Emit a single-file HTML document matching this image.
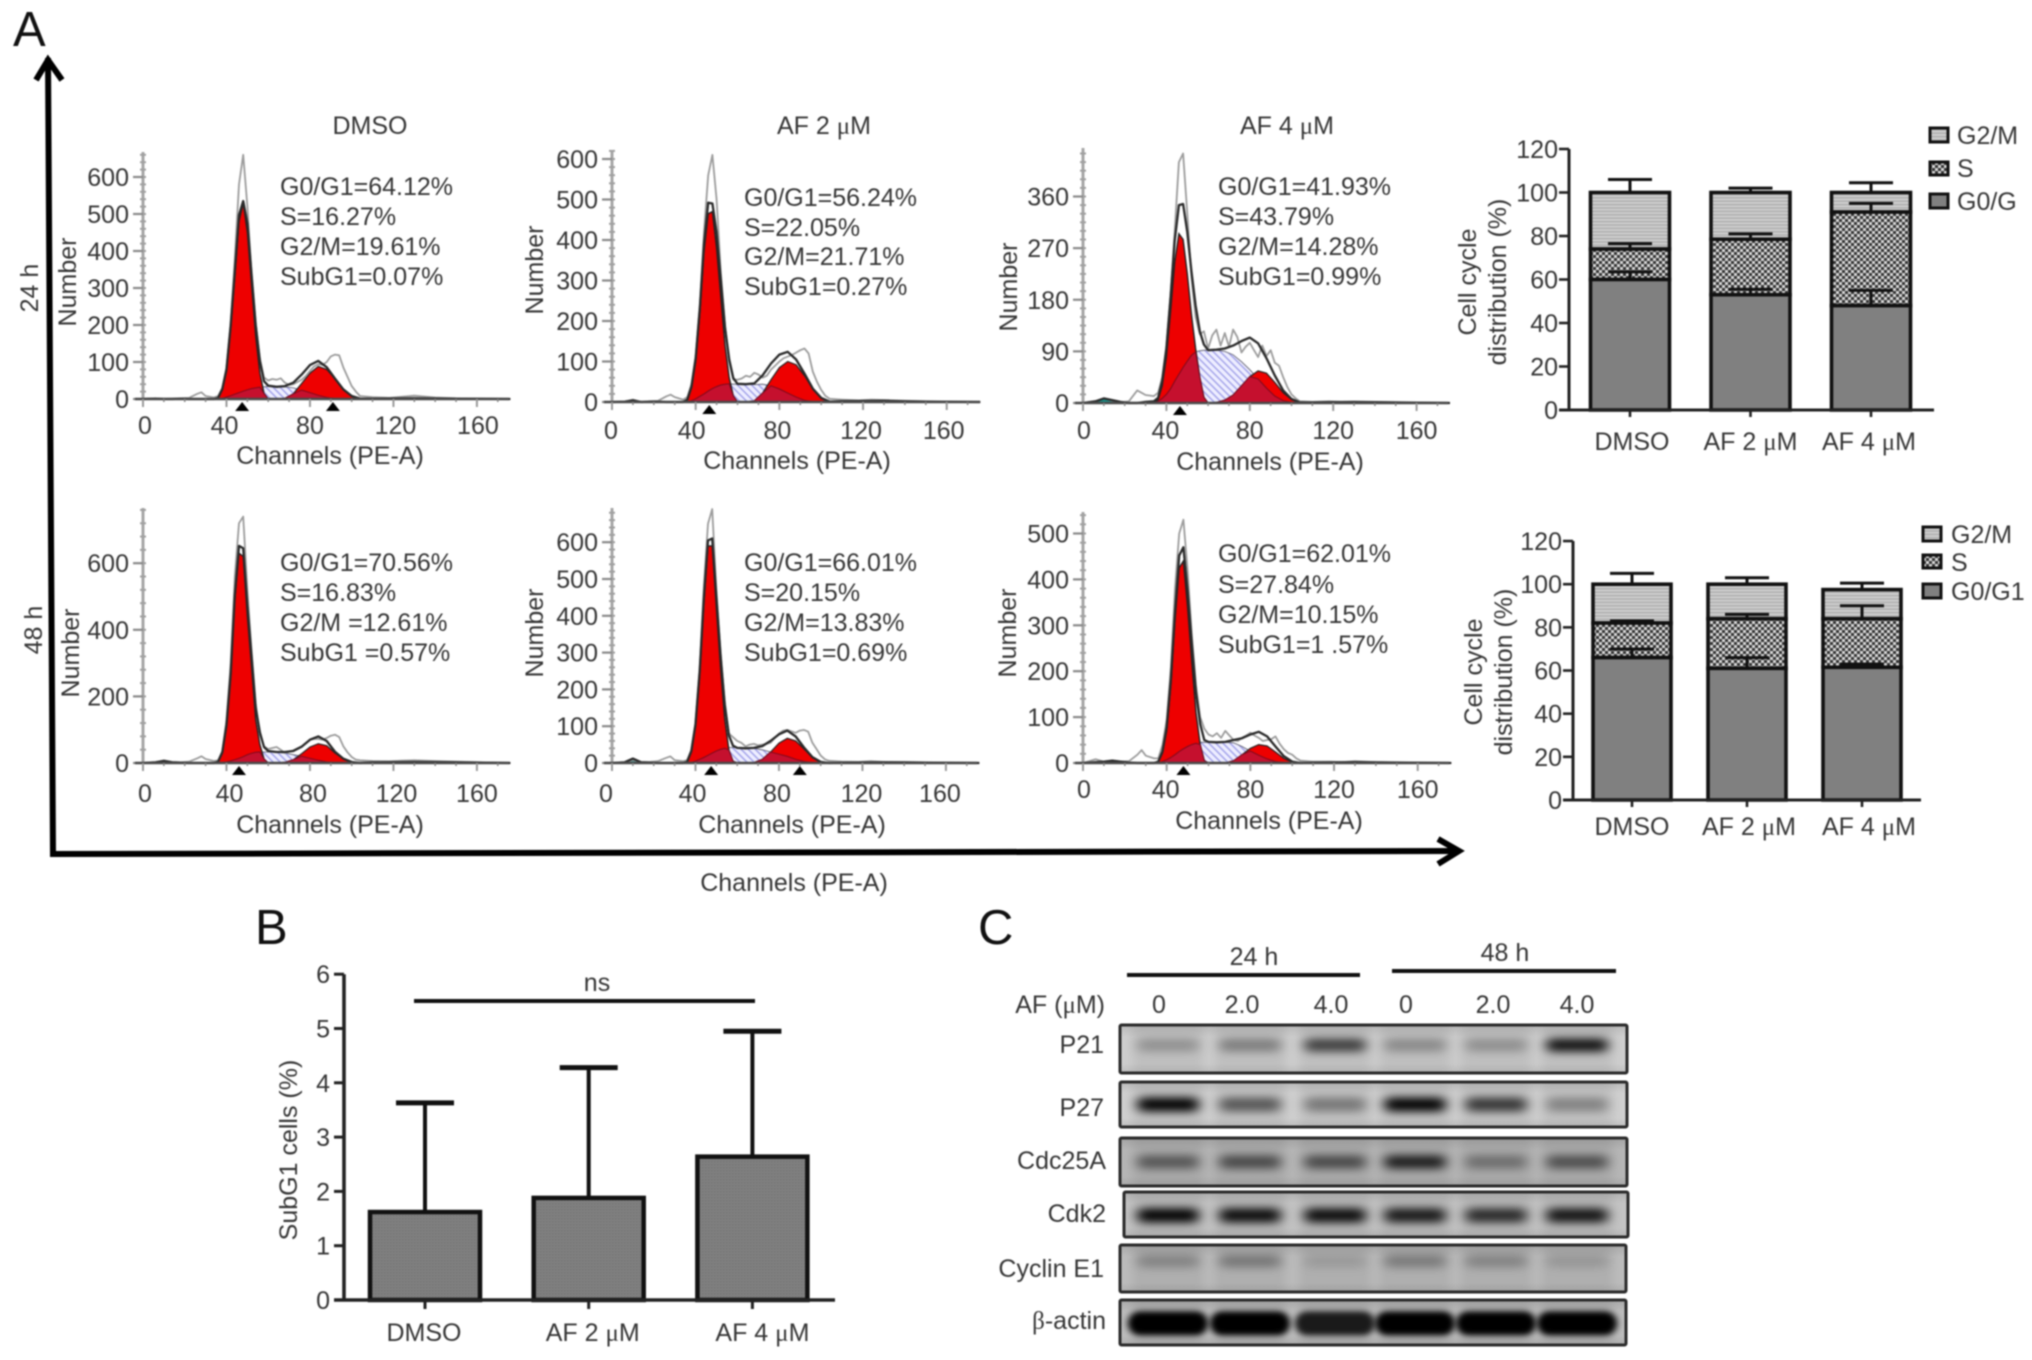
<!DOCTYPE html>
<html lang="en">
<head>
<meta charset="utf-8">
<title>Cell cycle analysis figure</title>
<style>
html,body{margin:0;padding:0;background:#fff;}
#figure{display:block;width:2032px;height:1360px;filter:blur(0.7px);}
text{font-family:"Liberation Sans",sans-serif;font-size:25px;fill:#363636;}
.mu{font-family:"Liberation Serif",serif;}
.letter{font-size:49px;fill:#111;}
.m{text-anchor:middle;}
.e{text-anchor:end;}
</style>
</head>
<body>
<svg id="figure" xmlns="http://www.w3.org/2000/svg" width="2032" height="1360" viewBox="0 0 2032 1360">
<defs>
  <pattern id="hatch-s-phase" patternUnits="userSpaceOnUse" width="5" height="5" patternTransform="rotate(45)">
    <rect width="5" height="5" fill="#eeeeff"/><rect width="5" height="1.5" fill="#a4a4ea"/>
  </pattern>
  <pattern id="stack-g2" patternUnits="userSpaceOnUse" width="4" height="3.4">
    <rect width="4" height="3.4" fill="#cdcdcd"/><rect width="4" height="1.2" fill="#a8a8a8"/>
  </pattern>
  <pattern id="stack-s" patternUnits="userSpaceOnUse" width="6" height="6">
    <rect width="6" height="6" fill="#d8d8d8"/><rect width="3" height="3" fill="#333"/><rect x="3" y="3" width="3" height="3" fill="#333"/>
  </pattern>
  <pattern id="bar-dots" patternUnits="userSpaceOnUse" width="3" height="3">
    <rect width="3" height="3" fill="#808080"/><rect width="1.5" height="1.5" fill="#747474"/>
  </pattern>
  <filter id="band-blur" x="-40%" y="-150%" width="180%" height="400%"><feGaussianBlur stdDeviation="6 4.5"/></filter>
  <filter id="band-blur-tight" x="-30%" y="-100%" width="160%" height="300%"><feGaussianBlur stdDeviation="3.5 3"/></filter>
  <filter id="lane-blur" x="-30%" y="-10%" width="160%" height="120%"><feGaussianBlur stdDeviation="5"/></filter>
  <linearGradient id="blot-edge" x1="0" y1="0" x2="0" y2="1">
    <stop offset="0" stop-color="#000" stop-opacity=".10"/>
    <stop offset=".25" stop-color="#000" stop-opacity="0"/>
    <stop offset=".8" stop-color="#000" stop-opacity="0"/>
    <stop offset="1" stop-color="#000" stop-opacity=".08"/>
  </linearGradient>
</defs>

<!-- Panel letters -->
<text class="letter" x="13" y="46">A</text>
<text class="letter" x="255" y="944">B</text>
<text class="letter" x="978" y="944">C</text>

<!-- Large axes arrows -->
<g fill="none" stroke="#000" stroke-width="6">
  <path d="M48 58 L53 854 L1456 851"/>
  <path d="M36 80 L48 60 L62 80"/>
  <path d="M1438 839 L1459 851 L1438 864"/>
</g>
<text class="m" x="794" y="891">Channels (PE-A)</text>
<text class="m" transform="rotate(-90 29 288)" x="29" y="297">24 h</text>
<text class="m" transform="rotate(-90 33 630)" x="33" y="639">48 h</text>

<!-- Column titles -->
<text class="m" x="370" y="134">DMSO</text>
<text class="m" x="824" y="134">AF 2 <tspan class="mu">μ</tspan>M</text>
<text class="m" x="1287" y="134">AF 4 <tspan class="mu">μ</tspan>M</text>

<!-- Histogram groups; marks are added by script -->
<g id="hist-dmso-24"></g>
<g id="hist-af2-24"></g>
<g id="hist-af4-24"></g>
<g id="hist-dmso-48"></g>
<g id="hist-af2-48"></g>
<g id="hist-af4-48"></g>

<!-- Histogram axis titles -->
<g>
  <text class="m" transform="rotate(-90 67 282)" x="67" y="291">Number</text>
  <text class="m" transform="rotate(-90 534 270)" x="534" y="279">Number</text>
  <text class="m" transform="rotate(-90 1008 287)" x="1008" y="296">Number</text>
  <text class="m" transform="rotate(-90 70 653)" x="70" y="662">Number</text>
  <text class="m" transform="rotate(-90 534 633)" x="534" y="642">Number</text>
  <text class="m" transform="rotate(-90 1007 633)" x="1007" y="642">Number</text>
  <text class="m" x="330" y="464">Channels (PE-A)</text>
  <text class="m" x="797" y="469">Channels (PE-A)</text>
  <text class="m" x="1270" y="470">Channels (PE-A)</text>
  <text class="m" x="330" y="833">Channels (PE-A)</text>
  <text class="m" x="792" y="833">Channels (PE-A)</text>
  <text class="m" x="1269" y="829">Channels (PE-A)</text>
</g>

<!-- Phase percentages -->
<g>
  <text x="280" y="195">G0/G1=64.12%</text>
  <text x="280" y="225">S=16.27%</text>
  <text x="280" y="255">G2/M=19.61%</text>
  <text x="280" y="285">SubG1=0.07%</text>
</g>
<g>
  <text x="744" y="206">G0/G1=56.24%</text>
  <text x="744" y="236">S=22.05%</text>
  <text x="744" y="265">G2/M=21.71%</text>
  <text x="744" y="295">SubG1=0.27%</text>
</g>
<g>
  <text x="1218" y="195">G0/G1=41.93%</text>
  <text x="1218" y="225">S=43.79%</text>
  <text x="1218" y="255">G2/M=14.28%</text>
  <text x="1218" y="285">SubG1=0.99%</text>
</g>
<g>
  <text x="280" y="571">G0/G1=70.56%</text>
  <text x="280" y="601">S=16.83%</text>
  <text x="280" y="631">G2/M =12.61%</text>
  <text x="280" y="661">SubG1 =0.57%</text>
</g>
<g>
  <text x="744" y="571">G0/G1=66.01%</text>
  <text x="744" y="601">S=20.15%</text>
  <text x="744" y="631">G2/M=13.83%</text>
  <text x="744" y="661">SubG1=0.69%</text>
</g>
<g>
  <text x="1218" y="562">G0/G1=62.01%</text>
  <text x="1218" y="593">S=27.84%</text>
  <text x="1218" y="623">G2/M=10.15%</text>
  <text x="1218" y="653">SubG1=1 .57%</text>
</g>

<!-- Stacked bar charts -->
<g id="stack-24"></g>
<g id="stack-48"></g>
<g>
  <text class="m" transform="rotate(-90 1467 282)" x="1467" y="291">Cell cycle</text>
  <text class="m" transform="rotate(-90 1497 282)" x="1497" y="291">distribution (%)</text>
</g>
<g>
  <text class="m" transform="rotate(-90 1473 672)" x="1473" y="681">Cell cycle</text>
  <text class="m" transform="rotate(-90 1503 672)" x="1503" y="681">distribution (%)</text>
</g>
<g stroke="#111" stroke-width="3">
  <rect x="1930" y="128" width="18" height="14" fill="url(#stack-g2)"/>
  <rect x="1930" y="162" width="18" height="13" fill="url(#stack-s)"/>
  <rect x="1930" y="194" width="18" height="14" fill="#808080"/>
  <text x="1957" y="144" stroke="none">G2/M</text>
  <text x="1957" y="177" stroke="none">S</text>
  <text x="1957" y="210" stroke="none">G0/G</text>
</g>
<g stroke="#111" stroke-width="3">
  <rect x="1923" y="527" width="18" height="14" fill="url(#stack-g2)"/>
  <rect x="1923" y="555" width="18" height="13" fill="url(#stack-s)"/>
  <rect x="1923" y="584" width="18" height="14" fill="#808080"/>
  <text x="1951" y="543" stroke="none">G2/M</text>
  <text x="1951" y="571" stroke="none">S</text>
  <text x="1951" y="600" stroke="none">G0/G1</text>
</g>

<!-- Panel B -->
<g id="subg1-chart"></g>
<text class="m" transform="rotate(-90 288 1150)" x="288" y="1159">SubG1 cells (%)</text>
<line x1="414" y1="1001" x2="755" y2="1001" stroke="#111" stroke-width="4"/>
<text class="m" x="597" y="991">ns</text>

<!-- Panel C -->
<g>
  <text class="m" x="1254" y="965">24 h</text>
  <text class="m" x="1505" y="961">48 h</text>
  <line x1="1127" y1="975" x2="1360" y2="975" stroke="#111" stroke-width="4"/>
  <line x1="1392" y1="971" x2="1616" y2="971" stroke="#111" stroke-width="4"/>
  <text class="e" x="1105" y="1013">AF (<tspan class="mu">μ</tspan>M)</text>
  <text class="m" x="1159" y="1013">0</text>
  <text class="m" x="1242" y="1013">2.0</text>
  <text class="m" x="1331" y="1013">4.0</text>
  <text class="m" x="1406" y="1013">0</text>
  <text class="m" x="1493" y="1013">2.0</text>
  <text class="m" x="1577" y="1013">4.0</text>
</g>
<g>
  <text class="e" x="1104" y="1053">P21</text>
  <text class="e" x="1104" y="1116">P27</text>
  <text class="e" x="1106" y="1169">Cdc25A</text>
  <text class="e" x="1106" y="1222">Cdk2</text>
  <text class="e" x="1104" y="1277">Cyclin E1</text>
  <text class="e" x="1106" y="1329"><tspan class="mu">β</tspan>-actin</text>
</g>
<g id="blots"></g>
</svg>

<script>
/* ---------- Flow cytometry histograms ---------- */
const channels=[0,6,10,14,18,22,26,30, 34,36,38,40,42,44,46,48,50,52,54,56,58,60, 64,68,72,76,80,84,88,92,96,100,104, 110,130,150,176];
const rawChannels=[0,6,10,14,18,22,26,28,30, 34,36,38,40,42,44,46,48,50,52,54,56,58,60, 62,64,66,68,70,72,74,76,78,80,82,84,86,88,90,92,94,96,98,100,102,104, 110,118,124,130,140,150,176];

const dmso24G1=[0,0,0,0,0,0,0,0, 0,3,25,75,190,330,480,530,450,310,170,70,15,0, 0,0,0,0,0,0,0,0,0,0,0, 0,0,0,0];
const dmso24S=[0,0,0,0,0,0,0,0, 0,0,2,5,9,13,17,21,25,28,30,32,33,34, 33,33,30,24,17,10,4,1,0,0,0, 0,0,0,0];
const dmso24G2=[0,0,0,0,0,0,0,0, 0,0,0,0,0,0,0,0,0,0,0,0,0,0, 0,2,14,42,70,88,80,54,26,8,1, 0,0,0,0];
const dmso24Sub=[0,0,0,0,0,0,0,0, 0,0,0,0,0,0,0,0,0,0,0,0,0,0, 0,0,0,0,0,0,0,0,0,0,0, 0,0,0,0];
const dmso24Fit=[0,1,0,0,1,0,0,0, 0,3,27,80,199,343,497,535,475,338,200,102,48,36, 33,35,44,66,92,103,86,55,26,8,1, 1,2,1,0];
const dmso24Raw=[0,2,0,1,2,3,14,18,8, 4,8,30,85,205,380,580,660,520,340,205,110,58,50, 54,52,56,44,38,40,46,52,62,76,88,94,92,100,115,120,118,85,60,35,20,8, 5,3,6,9,4,2,0];

const af224G1=[0,0,0,0,0,0,0,0, 0,5,35,100,220,370,465,470,380,260,140,60,15,0, 0,0,0,0,0,0,0,0,0,0,0, 0,0,0,0];
const af224S=[0,0,0,0,0,0,0,0, 0,1,3,8,14,20,27,33,38,42,44,45,44,44, 43,43,44,40,32,22,12,4,1,0,0, 0,0,0,0];
const af224G2=[0,0,0,0,0,0,0,0, 0,0,0,0,0,0,0,0,0,0,0,0,0,0, 0,3,22,55,85,100,92,65,32,10,1, 0,0,0,0];
const af224Sub=[0,0,0,0,0,0,0,0, 0,0,0,0,0,0,0,0,0,0,0,0,0,0, 0,0,0,0,0,0,0,0,0,0,0, 0,0,0,0];
const af224Fit=[0,1,4,0,1,1,0,0, 0,6,38,108,234,390,492,490,418,302,184,105,59,45, 44,46,66,95,117,124,105,70,33,10,1, 2,3,1,0];
const af224Raw=[0,1,6,0,2,3,14,18,12, 6,12,45,115,240,420,560,610,500,320,190,100,55,55, 58,65,62,72,68,60,65,80,90,100,108,112,116,122,128,132,120,75,50,30,15,8, 6,4,6,5,3,2,0];

const af424G1=[0,0,0,0,0,0,0,0, 0,6,30,80,160,245,295,285,225,155,95,45,10,0, 0,0,0,0,0,0,0,0,0,0,0, 0,0,0,0];
const af424S=[0,0,0,0,0,0,0,0, 0,3,8,15,25,38,50,62,73,83,89,91,92,92, 92,90,84,72,58,42,26,12,4,1,0, 0,0,0,0];
const af424G2=[0,0,0,0,0,0,0,0, 0,0,0,0,0,0,0,0,0,0,0,0,0,0, 1,5,14,30,46,56,52,36,18,6,1, 0,0,0,0];
const af424Sub=[0,3,8,5,1,0,0,0, 0,0,0,0,0,0,0,0,0,0,0,0,0,0, 0,0,0,0,0,0,0,0,0,0,0, 0,0,0,0];
const af424Fit=[0,3,8,5,2,0,0,2, 3,9,38,95,185,283,345,347,298,230,170,125,102,92, 93,95,100,108,114,104,78,48,22,7,1, 1,2,1,0];
const af424Raw=[0,3,8,4,1,3,22,18,14, 12,18,45,100,190,300,420,435,330,220,150,120,125,95, 118,128,100,122,98,128,115,88,98,105,92,80,100,82,92,70,65,45,28,15,8,3, 2,3,2,2,2,1,0];

const dmso48G1=[0,0,0,0,0,0,0,0, 0,3,30,110,260,490,630,620,440,290,130,55,12,0, 0,0,0,0,0,0,0,0,0,0,0, 0,0,0,0];
const dmso48S=[0,0,0,0,0,0,0,0, 0,0,1,3,6,10,14,19,25,29,32,33,33,33, 32,30,25,20,14,8,3,1,0,0,0, 0,0,0,0];
const dmso48G2=[0,0,0,0,0,0,0,0, 0,0,0,0,0,0,0,0,0,0,0,0,0,0, 0,2,10,28,48,58,52,30,12,3,0, 0,0,0,0];
const dmso48Sub=[0,0,0,0,0,0,0,0, 0,0,0,0,0,0,0,0,0,0,0,0,0,0, 0,0,0,0,0,0,0,0,0,0,0, 0,0,0,0];
const dmso48Fit=[0,2,6,2,1,0,0,0, 0,4,32,114,268,502,652,645,470,322,165,92,48,36, 33,33,36,49,70,80,66,34,13,3,0, 2,3,2,0];
const dmso48Raw=[0,2,8,3,2,4,14,20,12, 6,8,36,130,300,560,720,740,520,340,180,85,50,42, 45,48,40,30,34,38,44,50,60,70,72,72,70,75,82,85,78,50,32,18,10,8, 6,5,7,8,6,4,0];

const af248G1=[0,0,0,0,0,0,0,0, 0,2,30,100,240,430,590,590,420,260,120,35,5,0, 0,0,0,0,0,0,0,0,0,0,0, 0,0,0,0];
const af248S=[0,0,0,0,0,0,0,0, 0,0,2,5,10,15,21,27,33,37,40,42,42,41, 40,40,36,30,24,18,10,4,1,0,0, 0,0,0,0];
const af248G2=[0,0,0,0,0,0,0,0, 0,0,0,0,0,0,0,0,0,0,0,0,0,0, 0,1,10,30,54,67,60,38,15,3,0, 0,0,0,0];
const af248Sub=[0,2,12,2,0,0,0,0, 0,0,0,0,0,0,0,0,0,0,0,0,0,0, 0,0,0,0,0,0,0,0,0,0,0, 0,0,0,0];
const af248Fit=[0,2,12,2,1,0,0,0, 0,3,32,105,250,445,605,610,450,295,158,75,47,41, 40,41,46,60,78,88,72,42,16,3,0, 1,2,1,0];
const af248Raw=[0,2,8,3,3,5,14,18,8, 5,8,36,110,255,480,650,690,470,300,170,80,70,60, 55,45,50,52,48,50,52,55,68,80,88,90,86,82,88,90,85,55,38,20,10,6, 4,3,5,3,3,2,0];

const af448G1=[0,0,0,0,0,0,0,0, 0,2,22,70,170,310,425,440,340,220,110,40,5,0, 0,0,0,0,0,0,0,0,0,0,0, 0,0,0,0];
const af448S=[0,0,0,0,0,0,0,0, 0,1,3,7,12,18,25,31,36,40,43,45,45,45, 45,45,44,36,26,17,9,3,1,0,0, 0,0,0,0];
const af448G2=[0,0,0,0,0,0,0,0, 0,0,0,0,0,0,0,0,0,0,0,0,0,0, 0,0,5,18,32,40,37,24,10,2,0, 0,0,0,0];
const af448Sub=[0,0,2,5,1,0,0,0, 0,0,0,0,0,0,0,0,0,0,0,0,0,0, 0,0,0,0,0,0,0,0,0,0,0, 0,0,0,0];
const af448Fit=[0,2,3,5,3,1,0,0, 0,3,25,78,183,328,452,470,375,260,153,85,50,46, 45,46,50,54,62,68,58,36,15,3,0, 1,2,1,0];
const af448Raw=[0,8,3,5,3,4,18,28,16, 10,10,40,95,210,380,500,530,420,280,170,100,75,62, 58,65,55,70,60,50,48,55,60,66,60,55,48,50,52,58,42,30,22,18,10,5, 3,3,2,4,2,1,0];

const ticksDmso24=[0,100,200,300,400,500,600];
const ticksAf224=[0,100,200,300,400,500,600];
const ticksAf424=[0,90,180,270,360];
const ticksDmso48=[0,200,400,600];
const ticksAf248=[0,100,200,300,400,500,600];
const ticksAf448=[0,100,200,300,400,500];
const xTickChannels=[0,40,80,120,160];
const peakMarkersDmso24=[47.5,91];
const peakMarkersAf224=[46.5];
const peakMarkersAf424=[46.5];
const peakMarkersDmso48=[46];
const peakMarkersAf248=[47.5,90];
const peakMarkersAf448=[48];

const NS='http://www.w3.org/2000/svg';
function add(parent,tag,name,attrs,text){
  const el=document.createElementNS(NS,tag);
  for(const k in attrs){el.setAttribute(k,attrs[k]);}
  
  
  if(text!==undefined){el.textContent=text;}
  parent.appendChild(el);
  return el;
}

function drawHistogram(cfg,g1,s,g2,sub,fit,raw,yTicks,markers){
  const root=document.getElementById(cfg.id);
  const X=c=>cfg.x0+c*cfg.pxPerChannel;
  const Y=v=>cfg.y0-v*cfg.pxPerCount;
  const area=vals=>{
    let d='M'+X(channels[0])+' '+Y(0);
    vals.forEach((v,i)=>{d+=' L'+X(channels[i]).toFixed(1)+' '+Y(v).toFixed(1);});
    return d+' L'+X(channels[channels.length-1])+' '+Y(0)+' Z';
  };
  const line=(xs,vals)=>vals.map((v,i)=>(i?'L':'M')+X(xs[i]).toFixed(1)+' '+Y(v).toFixed(1)).join(' ');
  const overlap=s.map((v,i)=>Math.min(v,Math.max(g1[i],g2[i])));
  add(root,'path','s-phase-area',{d:area(s),fill:'url(#hatch-s-phase)',stroke:'#556',"stroke-width":0.8});
  add(root,'path','g0g1-peak',{d:area(g1),fill:'#ee0000',stroke:'#222',"stroke-width":1.4});
  add(root,'path','g2m-peak',{d:area(g2),fill:'#ee0000',stroke:'#222',"stroke-width":1.2});
  add(root,'path','s-phase-overlap',{d:area(overlap),fill:'#c5102e',stroke:'#7a0a1e',"stroke-width":1});
  add(root,'path','subg1-peak',{d:area(sub),fill:'#16938a'});
  add(root,'path','raw-histogram-line',{d:line(rawChannels,raw),fill:'none',stroke:'#9c9c9c',"stroke-width":1.8,"stroke-linejoin":"round"});
  add(root,'path','model-fit-line',{d:line(channels,fit),fill:'none',stroke:'#2a2a2a',"stroke-width":2.3,"stroke-linejoin":"round"});

  const yMaxValue=(cfg.y0-cfg.yTop)/cfg.pxPerCount;
  add(root,'line','y-axis-line',{x1:cfg.x0,x2:cfg.x0,y1:cfg.yTop,y2:cfg.y0,stroke:'#a6a6a6',"stroke-width":3});
  for(let v=0;v<=yMaxValue;v+=cfg.minorStep){
    add(root,'line','y-minor-tick',{x1:cfg.x0-3,x2:cfg.x0+3,y1:Y(v),y2:Y(v),stroke:'#a0a0a0',"stroke-width":2});
  }
  yTicks.forEach(v=>{
    add(root,'line','y-major-tick',{x1:cfg.x0-10,x2:cfg.x0,y1:Y(v),y2:Y(v),stroke:'#8a8a8a',"stroke-width":2.2});
    add(root,'text','y-tick-label',{x:cfg.x0-14,y:Y(v)+9,class:'e'},String(v));
  });
  add(root,'line','x-axis-line',{x1:cfg.x0-8,x2:cfg.x1,y1:cfg.y0,y2:cfg.y0,stroke:'#4a4a4a',"stroke-width":2.6});
  for(let c=0;c<=cfg.maxChannel;c+=10){
    add(root,'line','x-minor-tick',{x1:X(c),x2:X(c),y1:cfg.y0,y2:cfg.y0+3,stroke:'#888',"stroke-width":1.6});
  }
  xTickChannels.forEach((c,i)=>{
    add(root,'line','x-major-tick',{x1:X(c),x2:X(c),y1:cfg.y0,y2:cfg.y0+8,stroke:'#9a9a9a',"stroke-width":2});
    add(root,'text','x-tick-label',{x:X(c)+cfg.labelNudge[i],y:cfg.y0+cfg.labelGap,class:'m'},String(c));
  });
  markers.forEach(c=>{
    const x=X(c);
    add(root,'path','peak-marker',{d:'M'+(x-7)+' '+(cfg.y0+12)+' L'+x+' '+(cfg.y0+3)+' L'+(x+7)+' '+(cfg.y0+12)+' Z',fill:'#000'});
  });
}

drawHistogram({id:'hist-dmso-24',x0:143,x1:509,y0:399,yTop:152,pxPerChannel:2.087,pxPerCount:.37,minorStep:20,maxChannel:176,labelGap:35,labelNudge:[2,-2,0,2,1]},dmso24G1,dmso24S,dmso24G2,dmso24Sub,dmso24Fit,dmso24Raw,ticksDmso24,peakMarkersDmso24);
drawHistogram({id:'hist-af2-24',x0:612,x1:980,y0:402,yTop:150,pxPerChannel:2.092,pxPerCount:.405,minorStep:20,maxChannel:176,labelGap:37,labelNudge:[-1,-4,-2,-2,-3]},af224G1,af224S,af224G2,af224Sub,af224Fit,af224Raw,ticksAf224,peakMarkersAf224);
drawHistogram({id:'hist-af4-24',x0:1083,x1:1448,y0:403,yTop:148,pxPerChannel:2.085,pxPerCount:.5736,minorStep:15,maxChannel:176,labelGap:36,labelNudge:[1,-1,0,0,0]},af424G1,af424S,af424G2,af424Sub,af424Fit,af424Raw,ticksAf424,peakMarkersAf424);
drawHistogram({id:'hist-dmso-48',x0:143,x1:509,y0:763,yTop:508,pxPerChannel:2.087,pxPerCount:.333,minorStep:40,maxChannel:176,labelGap:39,labelNudge:[2,3,3,3,0]},dmso48G1,dmso48S,dmso48G2,dmso48Sub,dmso48Fit,dmso48Raw,ticksDmso48,peakMarkersDmso48);
drawHistogram({id:'hist-af2-48',x0:612,x1:977,y0:763,yTop:508,pxPerChannel:2.087,pxPerCount:.368,minorStep:20,maxChannel:176,labelGap:39,labelNudge:[-6,-3,-2,-1,-6]},af248G1,af248S,af248G2,af248Sub,af248Fit,af248Raw,ticksAf248,peakMarkersAf248);
drawHistogram({id:'hist-af4-48',x0:1083,x1:1449,y0:763,yTop:512,pxPerChannel:2.092,pxPerCount:.459,minorStep:20,maxChannel:176,labelGap:35,labelNudge:[1,-1,0,0,0]},af448G1,af448S,af448G2,af448Sub,af448Fit,af448Raw,ticksAf448,peakMarkersAf448);

/* ---------- Stacked bars ---------- */
const stackCategories=['DMSO','AF 2 ','AF 4 '];
const stackTicks=[0,20,40,60,80,100,120];
const g0g1Pct24=[60,53,48];
const sPct24=[14,25.5,43];
const g2mPct24=[26,21.5,9];
const g0g1Err24=[3.5,2.5,7];
const sErr24=[2.5,2.5,4];
const g2mErr24=[6,2,4.5];
const g0g1Pct48=[66,61,61.5];
const sPct48=[16,23,22.5];
const g2mPct48=[18,16,13.5];
const g0g1Err48=[4,5,1.5];
const sErr48=[1,2,6];
const g2mErr48=[5,3,3];

function addCategoryLabel(root,name,label,x,y){
  const t=add(root,'text',name,{x:x,y:y,class:'m'},label);
  if(label!=='DMSO'){
    const mu=add(t,'tspan','micro-symbol',{class:'mu'},'μ');
    mu.parentNode.appendChild(document.createTextNode('M'));
  }
}

function drawStack(cfg,g0,s,g2,e0,es,e2){
  const root=document.getElementById(cfg.id);
  const Y=v=>cfg.y0-v*cfg.pxPerPct;
  const Xc=i=>cfg.firstCenter+i*cfg.step;
  const bw=cfg.barWidth;
  add(root,'line','y-axis-line',{x1:cfg.x0,x2:cfg.x0,y1:Y(120),y2:cfg.y0,stroke:'#222',"stroke-width":3});
  stackTicks.forEach(v=>{
    add(root,'line','y-tick',{x1:cfg.x0-10,x2:cfg.x0,y1:Y(v),y2:Y(v),stroke:'#222',"stroke-width":2.6});
    add(root,'text','y-tick-label',{x:cfg.x0-11,y:Y(v)+9,class:'e'},String(v));
  });
  stackCategories.forEach((c,i)=>{
    const xc=Xc(i), l=xc-bw/2;
    const b0=g0[i], b1=b0+s[i], b2=b1+g2[i];
    add(root,'rect','segment-g2m',{x:l,y:Y(b2),width:bw,height:Y(b1)-Y(b2),fill:'url(#stack-g2)',stroke:'#111',"stroke-width":3.6});
    add(root,'rect','segment-s',{x:l,y:Y(b1),width:bw,height:Y(b0)-Y(b1),fill:'url(#stack-s)',stroke:'#111',"stroke-width":3.6});
    add(root,'rect','segment-g0g1',{x:l,y:Y(b0),width:bw,height:Y(0)-Y(b0),fill:'#808080',stroke:'#111',"stroke-width":3.6});
    [[b0,e0[i]],[b1,es[i]],[b2,e2[i]]].forEach(p=>{
      const top=Y(p[0]+p[1]);
      add(root,'line','error-stem',{x1:xc,x2:xc,y1:Y(p[0]),y2:top,stroke:'#111',"stroke-width":3});
      add(root,'line','error-cap',{x1:xc-cfg.cap,x2:xc+cfg.cap,y1:top,y2:top,stroke:'#111',"stroke-width":3});
    });
    add(root,'line','x-tick',{x1:xc,x2:xc,y1:cfg.y0,y2:cfg.y0+7,stroke:'#222',"stroke-width":2.6});
    addCategoryLabel(root,'category-label',c,xc+cfg.labelNudge[i],cfg.labelY);
  });
  add(root,'line','x-axis-line',{x1:cfg.x0-10,x2:cfg.x1,y1:cfg.y0,y2:cfg.y0,stroke:'#222',"stroke-width":3});
}
drawStack({id:'stack-24',x0:1569,x1:1934,y0:410,pxPerPct:2.175,firstCenter:1630,step:120.5,barWidth:79,cap:22,labelY:450,labelNudge:[2,0,-2]},g0g1Pct24,sPct24,g2mPct24,g0g1Err24,sErr24,g2mErr24);
drawStack({id:'stack-48',x0:1573,x1:1921,y0:800,pxPerPct:2.158,firstCenter:1632,step:115,barWidth:78,cap:22,labelY:835,labelNudge:[0,2,7]},g0g1Pct48,sPct48,g2mPct48,g0g1Err48,sErr48,g2mErr48);

/* ---------- SubG1 bars ---------- */
const subg1Categories=['DMSO','AF 2 ','AF 4 '];
const subg1Means=[1.62,1.88,2.64];
const subg1Upper=[3.63,4.28,4.95];
const subg1Ticks=[0,1,2,3,4,5,6];
(function(){
  const root=document.getElementById('subg1-chart');
  const x0=344,y0=1300,k=54.3,first=425,step=163.7,bw=110;
  const labelNudge=[-1,4,10];
  const Y=v=>y0-v*k;
  add(root,'line','y-axis-line',{x1:x0,x2:x0,y1:Y(6),y2:y0,stroke:'#222',"stroke-width":3.6});
  subg1Ticks.forEach(v=>{
    add(root,'line','y-tick',{x1:x0-10,x2:x0,y1:Y(v),y2:Y(v),stroke:'#222',"stroke-width":3});
    add(root,'text','y-tick-label',{x:x0-14,y:Y(v)+9,class:'e'},String(v));
  });
  subg1Categories.forEach((c,i)=>{
    const xc=first+i*step;
    add(root,'line','error-stem',{x1:xc,x2:xc,y1:Y(subg1Means[i]),y2:Y(subg1Upper[i]),stroke:'#111',"stroke-width":4});
    add(root,'line','error-cap',{x1:xc-29,x2:xc+29,y1:Y(subg1Upper[i]),y2:Y(subg1Upper[i]),stroke:'#111',"stroke-width":5});
    add(root,'rect','bar',{x:xc-bw/2,y:Y(subg1Means[i]),width:bw,height:y0-Y(subg1Means[i]),fill:'url(#bar-dots)',stroke:'#111',"stroke-width":4.5});
    add(root,'line','x-tick',{x1:xc,x2:xc,y1:y0,y2:y0+9,stroke:'#222',"stroke-width":3});
    addCategoryLabel(root,'category-label',c,xc+labelNudge[i],1341);
  });
  add(root,'line','x-axis-line',{x1:x0-10,x2:835,y1:y0,y2:y0,stroke:'#222',"stroke-width":3.6});
})();

/* ---------- Western blots (band darkness per lane) ---------- */
const laneCount=[0,1,2,3,4,5];
const p21Bands=[.24,.34,.68,.28,.25,.92];
const p27Bands=[1,.55,.38,1,.72,.32];
const cdc25aBands=[.5,.58,.58,.85,.36,.55];
const cdk2Bands=[1,.95,.95,.88,.78,.9];
const cyclinE1Bands=[.25,.32,.12,.3,.25,.14];
const actinBands=[1,1,.85,1,1,1];
const laneCenters=[1168,1250,1335,1415,1496,1577];
function drawBlot(name,x,y,w,h,bg,bands,bandW,bandH,fy,filter){
  const root=document.getElementById('blots');
  const svg=add(root,'svg',name,{x:x,y:y,width:w,height:h});
  add(svg,'rect','blot-background',{x:0,y:0,width:w,height:h,fill:bg});
  add(svg,'rect','blot-shading',{x:0,y:0,width:w,height:h,fill:'url(#blot-edge)'});
  laneCount.forEach(i=>{
    const c=laneCenters[i]-x;
    add(svg,'rect','lane-smear',{x:c-36,y:-5,width:72,height:h+10,fill:'#000',"fill-opacity":.07,filter:'url(#lane-blur)'});
    add(svg,'rect','protein-band',{x:c-bandW/2,y:h*fy-bandH/2,width:bandW,height:bandH,rx:bandH/2,fill:'#000',"fill-opacity":bands[i],filter:'url(#'+filter+')'});
  });
  add(root,'rect',name+'-frame',{x:x,y:y,width:w,height:h,fill:'none',stroke:'#2a2a2a',"stroke-width":3,rx:1.5});
}
drawBlot('blot-p21',1120,1025,507,48,'#cecece',p21Bands,62,13,.42,'band-blur');
drawBlot('blot-p27',1120,1082,507,45,'#d0d0d0',p27Bands,62,14,.5,'band-blur');
drawBlot('blot-cdc25a',1120,1138,507,48,'#b6b6b6',cdc25aBands,62,13,.5,'band-blur');
drawBlot('blot-cdk2',1124,1192,504,45,'#c4c4c4',cdk2Bands,62,14,.52,'band-blur');
drawBlot('blot-cyclin-e1',1120,1245,506,47,'#bcbcbc',cyclinE1Bands,62,13,.34,'band-blur');
drawBlot('blot-beta-actin',1120,1300,506,45,'#bcbcbc',actinBands,80,24,.52,'band-blur-tight');
</script>
</body>
</html>
